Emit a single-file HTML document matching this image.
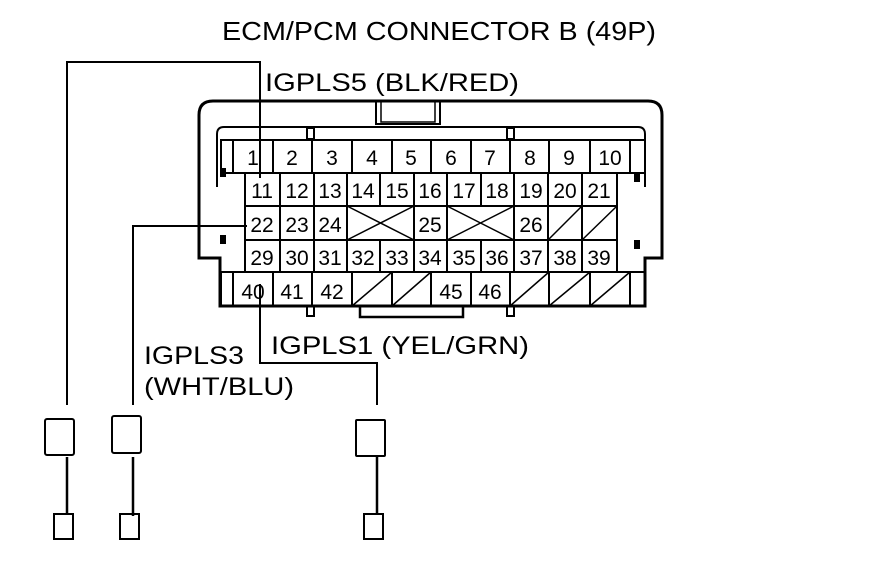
<!DOCTYPE html>
<html><head><style>body{margin:0;background:#fff}svg{display:block}text{font-family:"Liberation Sans",sans-serif;fill:#000}</style></head>
<body>
<svg width="880" height="578" viewBox="0 0 880 578" xmlns="http://www.w3.org/2000/svg">
<g fill="none" stroke="#000" stroke-width="2">
<path d="M220,306 V258 H199 V115 Q199,101 213,101 H648 Q662,101 662,115 V258 H645 V306 Z" stroke-width="3"/>
<path d="M376,101 V124 H440 V101" stroke-width="2"/>
<path d="M381,101 V122 H435 V101" stroke-width="1.5"/>
<path d="M217,187 V134 Q217,127 224,127 H638 Q645,127 645,134 V187"/>
<rect x="307" y="128" width="7" height="11"/>
<rect x="507" y="128" width="7" height="11"/>
<rect x="307" y="306" width="7" height="10"/>
<rect x="507" y="306" width="7" height="10"/>
<path d="M360,306 V317 H463 V306" stroke-width="2.5"/>
<rect x="221" y="140" width="424" height="33"/>
<line x1="233" y1="140" x2="233" y2="173"/>
<line x1="630" y1="140" x2="630" y2="173"/>
<path d="M273,140V173M312,140V173M352,140V173M392,140V173M431,140V173M471,140V173M510,140V173M549,140V173M590,140V173"/>
<rect x="245" y="173" width="372" height="99"/>
<path d="M245,206H617M245,240H617"/>
<path d="M280,173V272M314,173V272M347,173V206M347,240V272M380,173V206M380,240V272M414,173V272M447,173V206M447,240V272M481,173V206M481,240V272M514,173V272M548,173V272M582,173V272"/>
<path d="M347,206V240M414,206V240M447,206V240M514,206V240" />
<path d="M347,206L414,240M347,240L414,206M447,206L514,240M447,240L514,206M548,240L582,206M582,240L617,206" stroke-width="1.5"/>
<rect x="221" y="272" width="424" height="34"/>
<path d="M233,272V306M273,272V306M312,272V306M352,272V306M392,272V306M431,272V306M471,272V306M510,272V306M549,272V306M590,272V306M630,272V306"/>
<path d="M352,306L392,272M392,306L431,272M510,306L549,272M549,306L590,272M590,306L630,272" stroke-width="1.5"/>
<path d="M67,405V62H260V178"/>
<path d="M133,405V226H247"/>
<path d="M260,284V363H377V405"/>
<rect x="45" y="419" width="29" height="36" rx="2"/>
<rect x="112" y="416" width="29" height="37" rx="2"/>
<rect x="356" y="420" width="29" height="36" rx="1"/>
<path d="M67,457V515M133,457V516M377,457V515" stroke-width="2.5"/>
<rect x="54" y="514" width="19" height="25"/>
<rect x="120" y="514" width="19" height="25"/>
<rect x="364" y="514" width="19" height="25"/>
</g>
<g fill="#000">
<rect x="220" y="168" width="6" height="9"/><rect x="220" y="235" width="6" height="9"/>
<rect x="634" y="173" width="6" height="9"/><rect x="634" y="240" width="6" height="9"/>
</g>
<text x="222" y="40" font-size="26" textLength="434" lengthAdjust="spacingAndGlyphs">ECM/PCM CONNECTOR B (49P)</text>
<text x="265" y="91" font-size="25" textLength="254" lengthAdjust="spacingAndGlyphs">IGPLS5 (BLK/RED)</text>
<text x="271" y="354" font-size="25" textLength="258" lengthAdjust="spacingAndGlyphs">IGPLS1 (YEL/GRN)</text>
<text x="144" y="364" font-size="25" textLength="100" lengthAdjust="spacingAndGlyphs">IGPLS3</text>
<text x="144" y="395" font-size="25" textLength="150" lengthAdjust="spacingAndGlyphs">(WHT/BLU)</text>
<g font-size="21" text-anchor="middle">
<text x="253" y="165">1</text><text x="292" y="165">2</text><text x="332" y="165">3</text><text x="372" y="165">4</text><text x="411" y="165">5</text><text x="451" y="165">6</text><text x="490" y="165">7</text><text x="530" y="165">8</text><text x="569" y="165">9</text><text x="610" y="165">10</text>
<text x="262" y="198">11</text><text x="297" y="198">12</text><text x="330" y="198">13</text><text x="363" y="198">14</text><text x="397" y="198">15</text><text x="430" y="198">16</text><text x="464" y="198">17</text><text x="497" y="198">18</text><text x="531" y="198">19</text><text x="565" y="198">20</text><text x="599" y="198">21</text>
<text x="262" y="232">22</text><text x="297" y="232">23</text><text x="330" y="232">24</text><text x="430" y="232">25</text><text x="531" y="232">26</text>
<text x="262" y="265">29</text><text x="297" y="265">30</text><text x="330" y="265">31</text><text x="363" y="265">32</text><text x="397" y="265">33</text><text x="430" y="265">34</text><text x="464" y="265">35</text><text x="497" y="265">36</text><text x="531" y="265">37</text><text x="565" y="265">38</text><text x="599" y="265">39</text>
<text x="253" y="299">40</text><text x="292" y="299">41</text><text x="332" y="299">42</text><text x="451" y="299">45</text><text x="490" y="299">46</text>
</g>
</svg>
</body></html>
